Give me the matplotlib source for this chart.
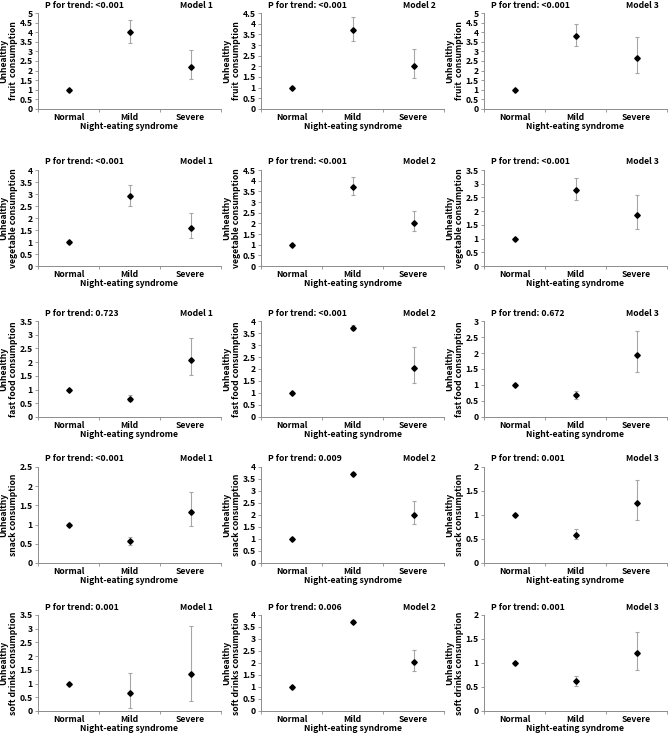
import matplotlib
matplotlib.use("Agg")
import matplotlib.pyplot as plt
import numpy as np
from matplotlib.ticker import FixedLocator, FuncFormatter

plt.rcParams['font.family'] = ['Noto Sans CJK SC', 'DejaVu Sans']
plt.rcParams['font.weight'] = 'bold'

categories = ["Normal", "Mild", "Severe"]
models = ["Model 1", "Model 2", "Model 3"]
outcomes = ["fruit  consumption", "vegetable consumption", "fast food consumption",
            "snack consumption", "soft drinks consumption"]

p_trend = [["<0.001", "<0.001", "<0.001"],
           ["<0.001", "<0.001", "<0.001"],
           ["0.723", "<0.001", "0.672"],
           ["<0.001", "0.009", "0.001"],
           ["0.001", "0.006", "0.001"]]

# odds ratio for Normal, Mild, Severe (rows = outcomes, cols = models)
odds = [[[1, 4.00, 2.20], [1, 3.72, 2.03], [1, 3.80, 2.67]],
        [[1, 2.90, 1.60], [1, 3.72, 2.03], [1, 2.78, 1.87]],
        [[1, 0.67, 2.08], [1, 3.72, 2.03], [1, 0.68, 1.95]],
        [[1, 0.57, 1.34], [1, 3.72, 2.02], [1, 0.59, 1.24]],
        [[1, 0.65, 1.35], [1, 3.72, 2.05], [1, 0.63, 1.20]]]
ci_low = [[[1, 3.45, 1.58], [1, 3.20, 1.45], [1, 3.27, 1.90]],
          [[1, 2.52, 1.17], [1, 3.33, 1.62], [1, 2.40, 1.35]],
          [[1, 0.57, 1.52], [1, 3.62, 1.42], [1, 0.57, 1.40]],
          [[1, 0.48, 0.97], [1, 3.65, 1.62], [1, 0.50, 0.89]],
          [[1, 0.10, 0.38], [1, 3.65, 1.68], [1, 0.53, 0.85]]]
ci_high = [[[1, 4.62, 3.05], [1, 4.30, 2.82], [1, 4.42, 3.75]],
           [[1, 3.37, 2.20], [1, 4.17, 2.60], [1, 3.22, 2.60]],
           [[1, 0.80, 2.87], [1, 3.85, 2.90], [1, 0.80, 2.70]],
           [[1, 0.68, 1.85], [1, 3.80, 2.60], [1, 0.71, 1.73]],
           [[1, 1.38, 3.10], [1, 3.80, 2.55], [1, 0.72, 1.65]]]

y_max = [[5, 4.5, 5], [4, 4.5, 3.5], [3.5, 4, 3], [2.5, 4, 2], [3.5, 4, 2]]

W, H = 669, 734
fig = plt.figure(figsize=(W / 100, H / 100), dpi=100)

col_left = [38, 261, 484]
ax_w = 183
row_top = [13, 170, 321, 467, 615]
ax_h = 96

spine_col = '#8c8c8c'
err_col = '#a6a6a6'
fs = 6.2

for r in range(5):
    for c in range(3):
        ax = fig.add_axes([col_left[c] / W, 1 - (row_top[r] + ax_h) / H, ax_w / W, ax_h / H])
        x = np.arange(1, 4)
        y = np.array(odds[r][c])
        lo = y - np.array(ci_low[r][c])
        hi = np.array(ci_high[r][c]) - y
        has_err = np.array([False, True, True])
        ax.errorbar(x[has_err], y[has_err], yerr=[lo[has_err], hi[has_err]], fmt='none',
                    ecolor=err_col, elinewidth=0.8, capsize=1.6, capthick=0.8, zorder=2)
        ax.plot(x, y, linestyle='none', marker='D', color='black', markersize=2.8, zorder=3)

        ax.set_xlim(0.5, 3.5)
        ax.set_ylim(0, y_max[r][c])
        ax.set_xticks(x)
        ax.set_xticklabels(categories, fontsize=fs, fontweight='bold')
        ax.xaxis.set_minor_locator(FixedLocator([0.5, 1.5, 2.5, 3.5]))
        ax.tick_params(axis='x', which='major', length=0, pad=3)
        ax.tick_params(axis='x', which='minor', length=2.5, width=0.6, color=spine_col)
        ticks = np.arange(0, y_max[r][c] + 0.01, 0.5)
        ax.set_yticks(ticks)
        ax.yaxis.set_major_formatter(FuncFormatter(lambda v, p: f"{v:g}"))
        ax.tick_params(axis='y', length=2.5, width=0.6, color=spine_col, pad=1.2, labelsize=6.2)
        for lab in ax.get_yticklabels():
            lab.set_fontweight('bold')

        for s in ['top', 'right']:
            ax.spines[s].set_visible(False)
        for s in ['left', 'bottom']:
            ax.spines[s].set_color(spine_col)
            ax.spines[s].set_linewidth(0.7)

        ax.set_xlabel("Night-eating syndrome", fontsize=fs, fontweight='bold', labelpad=0)
        ax.set_ylabel("Unhealthy\n" + outcomes[r], fontsize=fs, fontweight='bold',
                      linespacing=1.1)
        ax.yaxis.set_label_coords(-0.112, 0.5)

        ax.annotate("P for trend: " + p_trend[r][c], xy=(0, 1), xycoords='axes fraction',
                    xytext=(7, 8), textcoords='offset pixels', ha='left', va='center',
                    fontsize=fs, fontweight='bold')
        ax.annotate(models[c], xy=(1, 1), xycoords='axes fraction',
                    xytext=(-8, 8), textcoords='offset pixels', ha='right', va='center',
                    fontsize=fs, fontweight='bold')

fig.savefig("out.png", dpi=100)
